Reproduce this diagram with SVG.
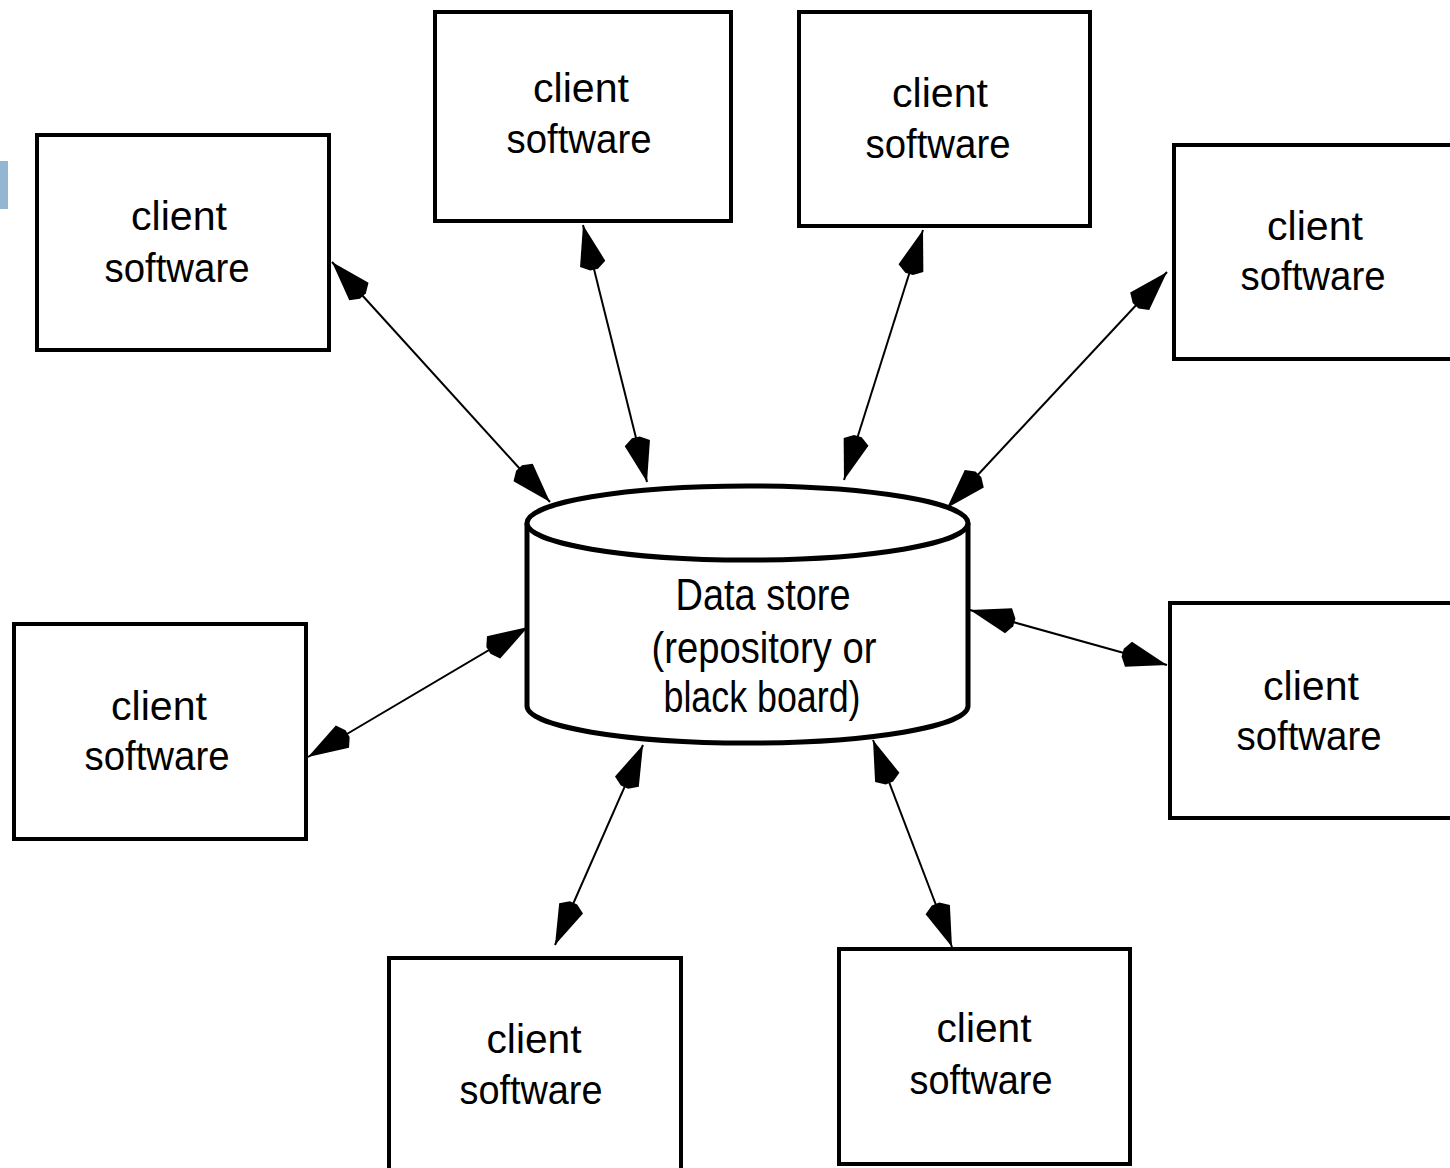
<svg xmlns="http://www.w3.org/2000/svg" width="1450" height="1168" viewBox="0 0 1450 1168">
  <defs>
    <style>
      .box { fill: #ffffff; stroke: #000000; stroke-width: 4; }
      .cyl { fill: #ffffff; stroke: #000000; stroke-width: 5; }
      .lbl { font-family: "Liberation Sans", Arial, sans-serif; font-size: 40px; fill: #000000; text-anchor: middle; }
      .dlbl { font-family: "Liberation Sans", Arial, sans-serif; font-size: 44px; fill: #000000; text-anchor: middle; }
      .conn { stroke: #000000; stroke-width: 2; fill: none; marker-start: url(#head); marker-end: url(#head); }
    </style>
    <marker id="head" markerUnits="userSpaceOnUse" viewBox="-50 -16 52 32" refX="0" refY="0" markerWidth="52" markerHeight="32" orient="auto-start-reverse">
      <path d="M0,0 L-40,-13 L-46,-4 L-46,4 L-40,13 Z" fill="#000000"/>
    </marker>
  </defs>
  <rect width="1450" height="1168" fill="#ffffff"/>
  <rect x="0" y="161" width="8" height="48" fill="#93b6d3"/>

  <g id="connectors">
    <line class="conn" x1="332" y1="262" x2="550" y2="502"/>
    <line class="conn" x1="583" y1="225" x2="647" y2="482"/>
    <line class="conn" x1="923" y1="230" x2="844" y2="480"/>
    <line class="conn" x1="1167" y1="272" x2="947" y2="508"/>
    <line class="conn" x1="308" y1="757" x2="528" y2="627"/>
    <line class="conn" x1="970" y1="610" x2="1167" y2="665"/>
    <line class="conn" x1="643" y1="745" x2="555" y2="945"/>
    <line class="conn" x1="873" y1="740" x2="952" y2="947"/>
  </g>

  <g id="datastore">
    <path class="cyl" d="M527,523 L527,706 A220.5,37 0 0 0 968,706 L968,523"/>
    <ellipse class="cyl" cx="747.5" cy="523" rx="220.5" ry="37"/>
    <text class="dlbl" x="763" y="610" textLength="175" lengthAdjust="spacingAndGlyphs">Data store</text>
    <text class="dlbl" x="764" y="663" textLength="225" lengthAdjust="spacingAndGlyphs">(repository or</text>
    <text class="dlbl" x="762" y="712" textLength="197" lengthAdjust="spacingAndGlyphs">black board)</text>
  </g>

  <g id="client1">
    <rect class="box" x="37" y="135" width="292" height="215"/>
    <text class="lbl" x="179" y="230" textLength="96" lengthAdjust="spacingAndGlyphs">client</text>
    <text class="lbl" x="177" y="282" textLength="145" lengthAdjust="spacingAndGlyphs">software</text>
  </g>
  <g id="client2">
    <rect class="box" x="435" y="12" width="296" height="209"/>
    <text class="lbl" x="581" y="102" textLength="96" lengthAdjust="spacingAndGlyphs">client</text>
    <text class="lbl" x="579" y="153" textLength="145" lengthAdjust="spacingAndGlyphs">software</text>
  </g>
  <g id="client3">
    <rect class="box" x="799" y="12" width="291" height="214"/>
    <text class="lbl" x="940" y="107" textLength="96" lengthAdjust="spacingAndGlyphs">client</text>
    <text class="lbl" x="938" y="158" textLength="145" lengthAdjust="spacingAndGlyphs">software</text>
  </g>
  <g id="client4">
    <rect class="box" x="1174" y="145" width="300" height="214"/>
    <text class="lbl" x="1315" y="240" textLength="96" lengthAdjust="spacingAndGlyphs">client</text>
    <text class="lbl" x="1313" y="290" textLength="145" lengthAdjust="spacingAndGlyphs">software</text>
  </g>
  <g id="client5">
    <rect class="box" x="14" y="624" width="292" height="215"/>
    <text class="lbl" x="159" y="720" textLength="96" lengthAdjust="spacingAndGlyphs">client</text>
    <text class="lbl" x="157" y="770" textLength="145" lengthAdjust="spacingAndGlyphs">software</text>
  </g>
  <g id="client6">
    <rect class="box" x="1170" y="603" width="300" height="215"/>
    <text class="lbl" x="1311" y="700" textLength="96" lengthAdjust="spacingAndGlyphs">client</text>
    <text class="lbl" x="1309" y="750" textLength="145" lengthAdjust="spacingAndGlyphs">software</text>
  </g>
  <g id="client7">
    <rect class="box" x="389" y="958" width="292" height="230"/>
    <text class="lbl" x="534" y="1053" textLength="95" lengthAdjust="spacingAndGlyphs">client</text>
    <text class="lbl" x="531" y="1104" textLength="143" lengthAdjust="spacingAndGlyphs">software</text>
  </g>
  <g id="client8">
    <rect class="box" x="839" y="949" width="291" height="215"/>
    <text class="lbl" x="984" y="1042" textLength="95" lengthAdjust="spacingAndGlyphs">client</text>
    <text class="lbl" x="981" y="1094" textLength="143" lengthAdjust="spacingAndGlyphs">software</text>
  </g>
</svg>
